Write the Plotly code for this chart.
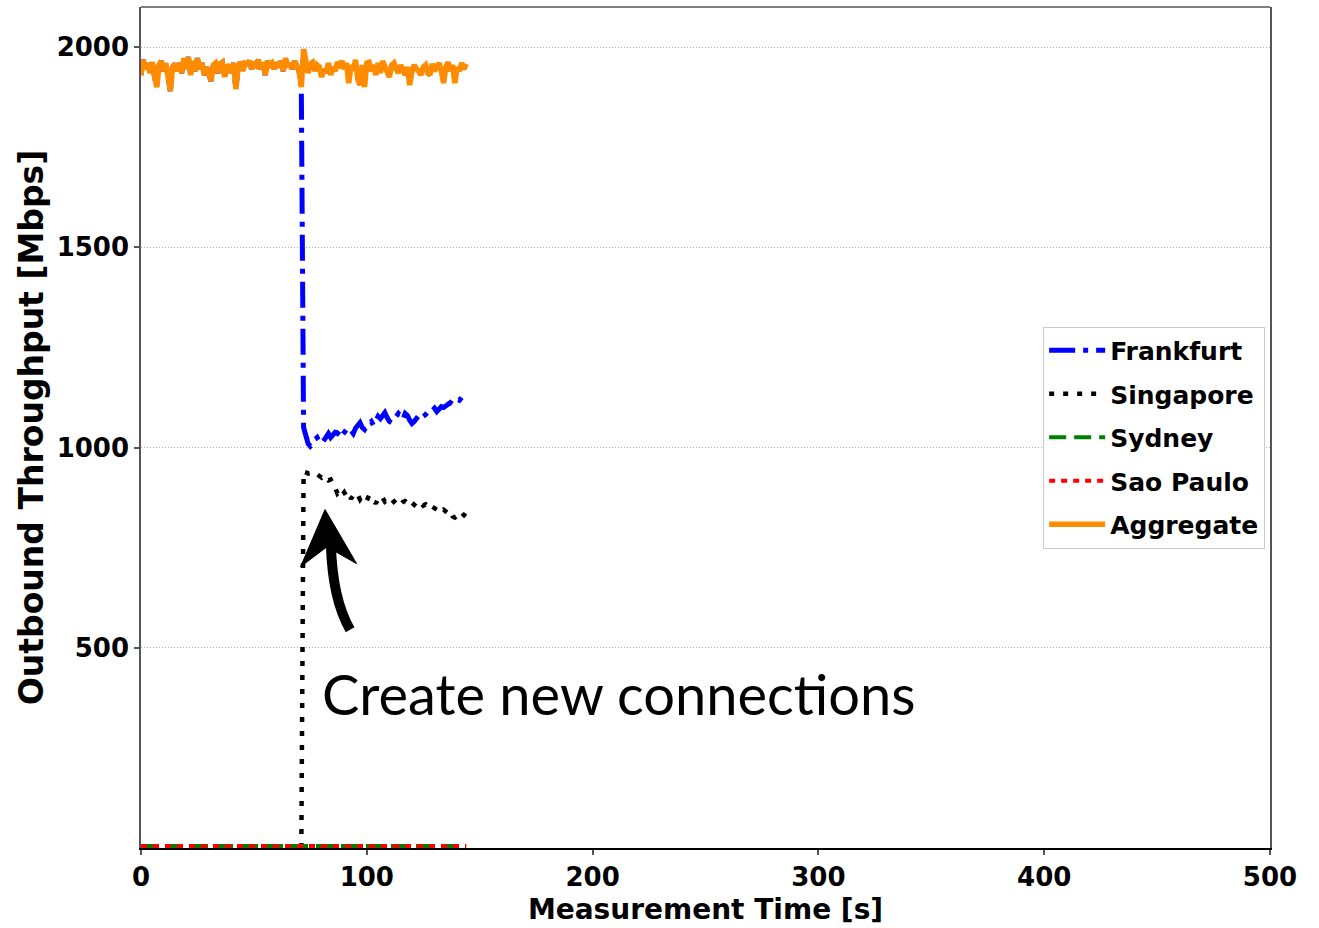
import plotly.graph_objects as go

# ---------------- data ----------------
time_s = list(range(0, 145))

aggregate = [
    1930, 1968, 1945, 1960, 1935, 1962, 1925, 1900, 1955, 1965,
    1940, 1960, 1925, 1890, 1950, 1958, 1940, 1960, 1935, 1972,
    1945, 1975, 1930, 1965, 1940, 1972, 1945, 1960, 1930, 1950,
    1935, 1915, 1955, 1960, 1935, 1958, 1962, 1925, 1955, 1950,
    1935, 1960, 1895, 1950, 1962, 1940, 1960, 1958, 1965, 1945,
    1962, 1955, 1968, 1945, 1962, 1930, 1965, 1955, 1960, 1945,
    1962, 1950, 1965, 1940, 1972, 1950, 1960, 1945, 1965, 1950,
    1940, 1900, 1995, 1965, 1935, 1958, 1962, 1940, 1955, 1950,
    1925, 1945, 1935, 1960, 1930, 1950, 1940, 1962, 1955, 1965,
    1945, 1960, 1910, 1955, 1940, 1968, 1920, 1905, 1955, 1900,
    1960, 1962, 1940, 1955, 1930, 1960, 1935, 1965, 1950, 1940,
    1925, 1955, 1960, 1945, 1935, 1955, 1940, 1930, 1950, 1905,
    1940, 1955, 1945, 1940, 1930, 1950, 1955, 1935, 1930, 1958,
    1940, 1950, 1960, 1940, 1910, 1950, 1962, 1940, 1955, 1910,
    1950, 1940, 1960, 1945, 1958,
]

frankfurt = [
    1930, 1968, 1945, 1960, 1935, 1962, 1925, 1900, 1955, 1965,
    1940, 1960, 1925, 1890, 1950, 1958, 1940, 1960, 1935, 1972,
    1945, 1975, 1930, 1965, 1940, 1972, 1945, 1960, 1930, 1950,
    1935, 1915, 1955, 1960, 1935, 1958, 1962, 1925, 1955, 1950,
    1935, 1960, 1895, 1950, 1962, 1940, 1960, 1958, 1965, 1945,
    1962, 1955, 1968, 1945, 1962, 1930, 1965, 1955, 1960, 1945,
    1962, 1950, 1965, 1940, 1972, 1950, 1960, 1945, 1965, 1950,
    1940, 1900, 1050, 1030, 1010, 1003, 1008, 1020, 1025, 1015,
    1010, 1018, 1030, 1035, 1025, 1032, 1038, 1035, 1042, 1030,
    1040, 1045, 1050, 1040, 1035, 1048, 1058, 1062, 1050, 1045,
    1055, 1060, 1065, 1055, 1070, 1078, 1072, 1080, 1087, 1075,
    1065, 1062, 1070, 1080, 1085, 1078, 1070, 1085, 1080, 1068,
    1060, 1065, 1075, 1080, 1085, 1078, 1082, 1088, 1095, 1092,
    1098, 1090, 1096, 1102, 1100, 1105, 1108, 1112, 1108, 1115,
    1120, 1118, 1125, 1132, 1128,
]

singapore_time = list(range(71, 145))
singapore = [
    0, 940, 938, 935, 936, 932, 930, 933, 928, 925,
    930, 922, 918, 920, 912, 900, 885, 890, 880, 888,
    878, 885, 872, 880, 875, 882, 870, 878, 875, 868,
    880, 875, 870, 860, 872, 868, 875, 865, 870, 868,
    860, 865, 870, 862, 858, 864, 866, 860, 855, 862,
    858, 852, 860, 862, 855, 858, 850, 855, 852, 848,
    845, 850, 842, 845, 838, 835, 840, 828, 825, 830,
    822, 828, 832, 828,
]

sydney = [
    5, 5, 5, 5, 5, 5, 5, 5, 5, 5, 5, 5, 5, 5, 5, 5, 5, 5, 5, 5,
    5, 5, 5, 5, 5, 5, 5, 5, 5, 5, 5, 5, 5, 5, 5, 5, 5, 5, 5, 5,
    5, 5, 5, 5, 5, 5, 5, 5, 5, 5, 5, 5, 5, 5, 5, 5, 5, 5, 5, 5,
    5, 5, 5, 5, 5, 5, 5, 5, 5, 5, 5, 5, 5, 5, 5, 5, 5, 5, 5, 5,
    5, 5, 5, 5, 5, 5, 5, 5, 5, 5, 5, 5, 5, 5, 5, 5, 5, 5, 5, 5,
    5, 5, 5, 5, 5, 5, 5, 5, 5, 5, 5, 5, 5, 5, 5, 5, 5, 5, 5, 5,
    5, 5, 5, 5, 5, 5, 5, 5, 5, 5, 5, 5, 5, 5, 5, 5, 5, 5, 5, 5,
    5, 5, 5, 5, 5,
]

sao_paulo = [
    5, 5, 5, 5, 5, 5, 5, 5, 5, 5, 5, 5, 5, 5, 5, 5, 5, 5, 5, 5,
    5, 5, 5, 5, 5, 5, 5, 5, 5, 5, 5, 5, 5, 5, 5, 5, 5, 5, 5, 5,
    5, 5, 5, 5, 5, 5, 5, 5, 5, 5, 5, 5, 5, 5, 5, 5, 5, 5, 5, 5,
    5, 5, 5, 5, 5, 5, 5, 5, 5, 5, 5, 5, 5, 5, 5, 5, 5, 5, 5, 5,
    5, 5, 5, 5, 5, 5, 5, 5, 5, 5, 5, 5, 5, 5, 5, 5, 5, 5, 5, 5,
    5, 5, 5, 5, 5, 5, 5, 5, 5, 5, 5, 5, 5, 5, 5, 5, 5, 5, 5, 5,
    5, 5, 5, 5, 5, 5, 5, 5, 5, 5, 5, 5, 5, 5, 5, 5, 5, 5, 5, 5,
    5, 5, 5, 5, 5,
]

x_ticks = [0, 100, 200, 300, 400, 500]
y_ticks = [500, 1000, 1500, 2000]

# ---------------- figure ----------------
FONT = "DejaVu Sans"
fig = go.Figure()

fig.add_trace(go.Scatter(x=time_s, y=frankfurt, mode="lines", name="Frankfurt",
                         legendgroup="a",
                         line=dict(color="#0000ff", width=5, dash="26px,8px,5px,8px")))
fig.add_trace(go.Scatter(x=singapore_time, y=singapore, mode="lines", name="Singapore",
                         legendgroup="b",
                         line=dict(color="black", width=4.5, dash="5px,9px")))
fig.add_trace(go.Scatter(x=time_s, y=sydney, mode="lines", name="Sydney",
                         legendgroup="c",
                         line=dict(color="#008000", width=4, dash="17px,8px")))
fig.add_trace(go.Scatter(x=time_s, y=sao_paulo, mode="lines", name="Sao Paulo",
                         legendgroup="d",
                         line=dict(color="#ff0000", width=4, dash="6px,6px")))
fig.add_trace(go.Scatter(x=time_s, y=aggregate, mode="lines", name="Aggregate",
                         legendgroup="e",
                         line=dict(color="#ff8c00", width=5.5)))

# curved arrow (decoration)
fig.add_shape(type="path", xref="x", yref="y",
              path="M 92.6,545 Q 84.9,620 84.1,755",
              line=dict(color="black", width=10))
fig.add_shape(type="path", xref="x", yref="y",
              path="M 81.5,845 L 70.7,702.5 L 82.4,752 L 95.5,710 Z",
              fillcolor="black", line=dict(color="black", width=1))

# top frame line
fig.add_shape(type="line", xref="paper", yref="paper", x0=0, x1=1, y0=1, y1=1,
              line=dict(color="#555555", width=1.5))

fig.add_annotation(text="Create new connections", xref="x", yref="y",
                   x=79.2, y=385, xanchor="left", yanchor="middle",
                   showarrow=False,
                   font=dict(family="Lato", size=56, color="black"))

fig.update_layout(
    width=1319, height=928,
    margin=dict(l=141, r=49, t=7, b=80, autoexpand=False),
    paper_bgcolor="white", plot_bgcolor="white",
    font=dict(family=FONT, color="black"),
    showlegend=True,
    legend=dict(x=0.9957, xanchor="right", y=0.62, yanchor="top",
                bgcolor="white", bordercolor="#cccccc", borderwidth=1,
                tracegroupgap=8, itemwidth=56,
                font=dict(family=FONT, size=25, weight="bold", color="black")),
)

fig.update_xaxes(
    range=[0, 500], tickvals=x_ticks, ticktext=[str(v) for v in x_ticks],
    showgrid=False, zeroline=False,
    showline=True, linecolor="black", linewidth=1.5, mirror=False,
    ticks="outside", ticklen=5, tickwidth=1.5, tickcolor="#555555",
    tickfont=dict(family=FONT, size=26, weight="bold", color="black"),
    title=dict(text="Measurement Time [s]", standoff=8,
               font=dict(family=FONT, size=28, weight="bold", color="black")),
    layer="below traces",
)
fig.update_yaxes(
    range=[0, 2100], tickvals=y_ticks, ticktext=[str(v) for v in y_ticks],
    showgrid=True, gridcolor="#b0b0b0", gridwidth=1, griddash="1px,2px",
    zeroline=False,
    showline=True, linecolor="#555555", linewidth=1.5, mirror=True,
    ticks="outside", ticklen=5, tickwidth=1.5, tickcolor="#555555",
    tickfont=dict(family=FONT, size=26, weight="bold", color="black"),
    title=dict(text="Outbound Throughput [Mbps]", standoff=3,
               font=dict(family=FONT, size=33, weight="bold", color="black")),
    layer="below traces",
)

fig.write_html("out.html")
